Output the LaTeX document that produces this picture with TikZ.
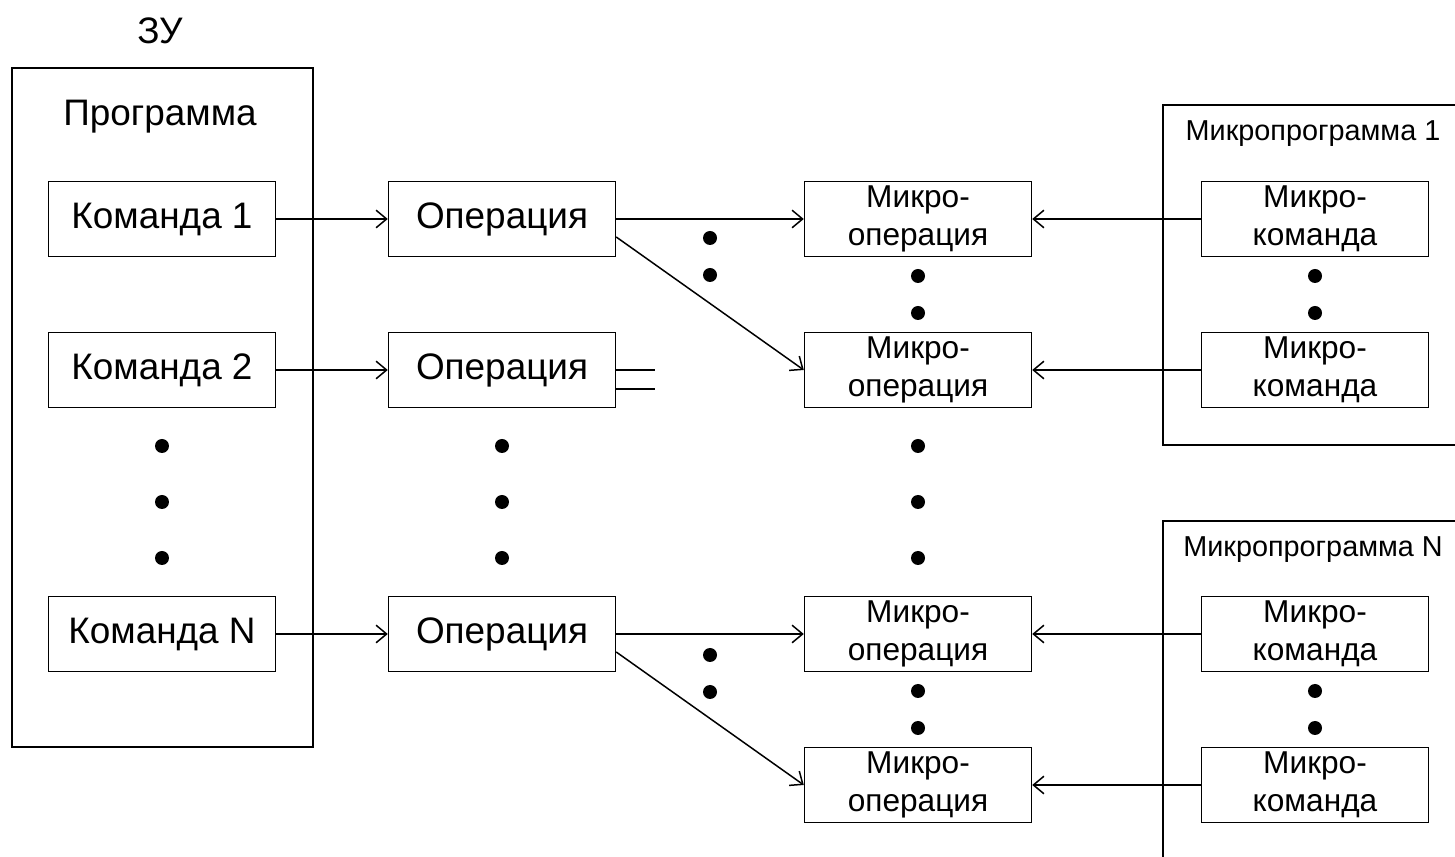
\documentclass[tikz,border=0pt]{standalone}
\usepackage{fontspec}
\setmainfont{Liberation Sans}
\usetikzlibrary{arrows.meta}

\begin{document}
\begin{tikzpicture}[x=0.02cm,y=-0.02cm,line width=0.85pt,
  blok/.style={draw,minimum width=4.54cm,minimum height=1.5cm,inner sep=0pt,
    font=\fontsize{21}{24}\selectfont},
  mikro/.style={blok,align=center,font=\fontsize{18}{21.5}\selectfont},
  tochka/.style={circle,fill,inner sep=0pt,minimum size=0.28cm},
  strelka/.style={-{Straight Barb[length=6pt,width=10pt]}}]
\clip (0,0) rectangle (1455,857);

% ZU and program
\node[font=\fontsize{21}{24}\selectfont] (zu) at (160,31) {ЗУ};
\draw (12,68) rectangle (313,747);
\node[font=\fontsize{21}{24}\selectfont] (prog) at (160,117) {Программа};

\node[blok] (k1) at (162,219) {Команда 1};
\node[blok] (k2) at (162,370) {Команда 2};
\node[blok] (kn) at (162,634) {Команда N};

% operations
\node[blok] (o1) at (502,219) {Операция};
\node[blok] (o2) at (502,370) {Операция};
\node[blok] (on) at (502,634) {Операция};

% micro-operations
\node[mikro] (mo1) at (918,219) {Микро-\\операция};
\node[mikro] (mo2) at (918,370) {Микро-\\операция};
\node[mikro] (mo3) at (918,634) {Микро-\\операция};
\node[mikro] (mo4) at (918,785) {Микро-\\операция};

% microprograms
\draw (1163,105) rectangle (1475,445);
\node[font=\fontsize{16.4}{19}\selectfont] (mp1) at (1313,134) {Микропрограмма 1};
\draw (1163,521) rectangle (1475,880);
\node[font=\fontsize{16.4}{19}\selectfont] (mpn) at (1313,550) {Микропрограмма N};

\node[mikro] (mk1) at (1315,219) {Микро-\\команда};
\node[mikro] (mk2) at (1315,370) {Микро-\\команда};
\node[mikro] (mk3) at (1315,634) {Микро-\\команда};
\node[mikro] (mk4) at (1315,785) {Микро-\\команда};

% connectors
\draw[strelka] (k1) -- (o1);
\draw[strelka] (k2) -- (o2);
\draw[strelka] (kn) -- (on);

\draw[strelka] (o1) -- (mo1);
\draw[strelka] ([yshift=-0.36cm]o1.east) -- (mo2.west);
\draw[strelka] (on) -- (mo3);
\draw[strelka] ([yshift=-0.36cm]on.east) -- (mo4.west);

\draw (o2.east) -- ++(39,0);
\draw ([yshift=-0.38cm]o2.east) -- ++(39,0);

\foreach \a/\b in {mk1/mo1,mk2/mo2,mk3/mo3,mk4/mo4}
  \draw[strelka] (\a) -- (\b);

% dots
\foreach \x/\y in {162/446,162/502,162/558, 502/446,502/502,502/558,
    918/276,918/313, 918/446,918/502,918/558, 918/691,918/728,
    710/238,710/275, 710/655,710/692,
    1315/276,1315/313, 1315/691,1315/728}
  \node[tochka] at (\x,\y) {};
\end{tikzpicture}
\end{document}
